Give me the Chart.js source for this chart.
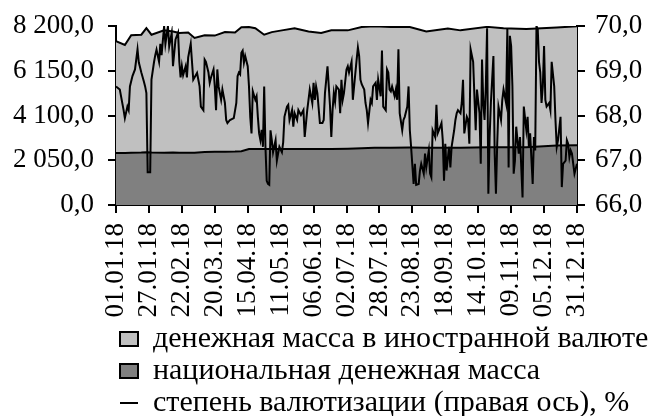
<!DOCTYPE html>
<html lang="ru">
<head>
<meta charset="UTF-8" />
<title>Денежная масса и степень валютизации</title>
<script src="https://cdn.jsdelivr.net/npm/chart.js"></script>
<style>
  html, body { margin: 0; padding: 0; background: #fff; }
</style>
</head>
<body>
<canvas id="chart" width="656" height="416"></canvas>
<script>
// days counted from 01.01.2018
const areaDays = [0, 7, 12, 20, 24, 28, 38, 45, 50, 57, 62, 70, 78, 86, 94, 99, 105, 110, 117, 123, 131, 141,
  152, 162, 170, 183, 194, 204, 217, 232, 245, 262, 272, 293, 306, 324, 348, 364];
const nationalMass = [2380, 2385, 2390, 2400, 2420, 2400, 2390, 2400, 2395, 2390, 2390, 2430, 2440, 2445, 2450, 2460,
  2560, 2565, 2570, 2570, 2570, 2570, 2565, 2560, 2570, 2580, 2600, 2620, 2625, 2630, 2620, 2620, 2625, 2640,
  2645, 2650, 2720, 2740];
const foreignMass = [5120, 4945, 5390, 5400, 5680, 5400, 5610, 5550, 5485, 5510, 5260, 5350, 5320, 5475, 5450, 5680,
  5590, 5535, 5230, 5350, 5430, 5530, 5385, 5320, 5430, 5420, 5550, 5570, 5525, 5520, 5330, 5460, 5375, 5520,
  5455, 5410, 5410, 5450];

const rateDays = [0, 3, 6, 7, 9, 10, 11, 13, 15, 17, 18, 20, 22, 23, 24, 25, 27, 28, 30, 31, 32, 34, 35, 36, 38, 39,
  41, 42, 44, 45, 47, 49, 50, 51, 52, 53, 55, 56, 57, 59, 60, 61, 64, 66, 67, 69, 70, 71, 73, 74, 75, 77, 78, 79,
  80, 81, 83, 84, 86, 87, 88, 90, 93, 95, 96, 97, 98, 99, 100, 101, 102, 104, 105, 106, 107, 108, 110, 111, 112,
  113, 114, 115, 116, 117, 118, 119, 120, 121, 122, 123, 124, 126, 127, 128, 129, 131, 132, 133, 135, 136, 137,
  139, 140, 141, 143, 144, 146, 148, 149, 151, 152, 153, 155, 156, 157, 158, 159, 161, 163, 164, 165, 167, 168,
  169, 170, 171, 172, 173, 174, 176, 177, 178, 179, 180, 182, 183, 184, 186, 187, 188, 190, 191, 192, 193, 194,
  196, 197, 198, 199, 201, 202, 203, 205, 206, 207, 209, 210, 211, 213, 214, 215, 216, 217, 218, 220, 221, 222,
  223, 224, 226, 227, 228, 230, 231, 232, 233, 235, 236, 237, 239, 240, 241, 243, 244, 245, 247, 248, 249, 250,
  252, 253, 254, 255, 257, 258, 259, 260, 261, 263, 264, 265, 267, 268, 269, 270, 272, 273, 274, 275, 277, 278,
  279, 280, 282, 283, 284, 285, 287, 288, 289, 290, 291, 292, 293, 294, 295, 296, 298, 299, 300, 301, 302, 304,
  305, 306, 308, 309, 310, 311, 312, 313, 314, 315, 316, 318, 319, 320, 321, 322, 324, 325, 326, 327, 329, 330,
  331, 332, 333, 334, 335, 336, 337, 338, 339, 340, 342, 343, 344, 346, 347, 348, 349, 351, 352, 353, 355, 356,
  357, 358, 359, 360, 362, 364];
const dollarization = [68.65, 68.58, 68.12, 67.94, 68.2, 68.12, 68.65, 68.88, 69.03, 69.48, 69.19, 68.96, 68.76,
  68.65, 68.5, 66.73, 66.73, 68.8, 69.19, 69.35, 69.47, 69.2, 69.6, 69.35, 70.0, 69.6, 70.0, 69.55, 69.85, 69.1,
  69.7, 69.85, 69.2, 68.85, 69.1, 68.9, 69.1, 68.85, 69.3, 69.6, 69.2, 68.8, 68.95, 68.65, 68.2, 68.12, 69.25,
  69.2, 68.96, 68.73, 68.85, 69.03, 68.65, 68.12, 69.03, 68.65, 68.35, 68.58, 68.28, 67.9, 67.83, 67.9, 67.94,
  68.28, 68.88, 68.96, 68.92, 69.4, 69.45, 69.18, 69.33, 69.1, 68.65, 67.97, 67.6, 68.54, 68.35, 68.43, 67.97,
  67.6, 67.45, 67.68, 67.3, 68.65, 67.3, 66.54, 66.47, 66.45, 67.67, 67.45, 67.18, 67.45, 66.99, 67.15, 67.3,
  67.18, 67.4, 67.97, 68.2, 68.24, 67.9, 68.12, 67.75, 68.05, 67.9, 68.12, 68.01, 68.12, 67.52, 68.12, 68.35,
  68.58, 68.28, 68.73, 68.35, 68.65, 68.5, 67.83, 67.83, 67.9, 68.5, 69.1, 68.65, 68.2, 67.52, 68.12, 68.5,
  68.31, 68.65, 68.58, 68.05, 68.8, 68.35, 68.5, 69.03, 69.1, 68.96, 69.2, 68.35, 68.65, 69.25, 69.52, 69.33,
  68.8, 68.7, 68.58, 68.28, 68.12, 67.83, 68.35, 68.28, 68.65, 68.73, 68.35, 68.8, 68.43, 69.45, 68.2, 68.12,
  69.03, 68.96, 68.58, 68.54, 68.65, 68.43, 68.58, 68.35, 69.48, 68.05, 67.67, 67.9, 67.97, 68.2, 68.65, 67.67,
  67.3, 66.47, 66.92, 66.45, 66.47, 66.77, 66.92, 66.7, 67.15, 66.84, 67.22, 66.7, 66.62, 67.67, 67.52, 68.24,
  67.6, 67.67, 67.83, 67.45, 66.54, 67.37, 66.77, 67.3, 66.84, 67.3, 67.67, 67.9, 68.05, 68.12, 68.05, 68.28,
  68.8, 67.6, 67.97, 67.9, 67.37, 69.48, 69.2, 68.43, 67.67, 68.58, 68.05, 66.92, 69.25, 68.28, 67.9, 68.65,
  69.95, 66.25, 67.52, 68.28, 69.33, 67.15, 66.25, 67.37, 68.2, 67.9, 68.35, 68.58, 68.28, 69.93, 66.84, 69.78,
  69.55, 68.65, 66.7, 66.99, 67.75, 67.15, 67.52, 66.84, 66.17, 68.2, 67.67, 67.97, 67.3, 67.6, 66.47, 67.52,
  67.22, 70.0, 69.93, 69.2, 68.96, 68.28, 68.65, 69.55, 68.35, 68.2, 68.28, 68.12, 69.2, 68.65, 67.9, 67.3,
  67.45, 67.97, 66.4, 66.92, 66.99, 67.45, 67.37, 67.07, 67.22, 67.15, 66.7, 66.92];

const leftTicks = [0, 2050, 4100, 6150, 8200];
const rightTicks = [66, 67, 68, 69, 70];
const labels = {
  foreign: "денежная масса в иностранной валюте",
  national: "национальная денежная масса",
  rate: "степень валютизации (правая ось), %"
};

function fmtNum(v) {
  const parts = v.toFixed(1).split(".");
  return parts[0].replace(/\B(?=(\d{3})+(?!\d))/g, " ") + "," + parts[1];
}
function fmtDay(v) {
  const d = new Date(2018, 0, 1 + v);
  const p = n => String(n).padStart(2, "0");
  return p(d.getDate()) + "." + p(d.getMonth() + 1) + "." + String(d.getFullYear()).slice(2);
}

const TICK_FONT = { family: "Liberation Serif", size: 27 };
const LEGEND_FONT = { family: "Liberation Serif", size: 30 };
const legendRank = { 2: 0, 1: 1, 0: 2 };

// move the legend block under the plot, as in the original
const legendNudge = {
  id: "legendNudge",
  afterLayout(chart) {
    const lg = chart.legend;
    lg.left += 118; lg.right += 118;
    lg.top += 4; lg.bottom += 4;
  }
};

// fixed widths for the value axes, and no extra top padding from their labels
function fitValueAxis(width) {
  return s => {
    s.width = width;
    s.paddingTop = 0;
    s.paddingBottom = 0;
  };
}

const axisGrid = { drawOnChartArea: false, color: "#000", tickLength: 8, lineWidth: 2 };

new Chart(document.getElementById("chart"), {
  type: "line",
  data: {
    datasets: [
      {
        label: labels.rate,
        data: rateDays.map((d, i) => ({ x: d, y: dollarization[i] })),
        yAxisID: "y1",
        borderColor: "#000",
        borderWidth: 2,
        pointRadius: 0,
        pointStyle: "line",
        fill: false,
        order: 0
      },
      {
        label: labels.national,
        data: areaDays.map((d, i) => ({ x: d, y: nationalMass[i] })),
        yAxisID: "y",
        backgroundColor: "#808080",
        borderColor: "#000",
        borderWidth: 2,
        pointRadius: 0,
        pointStyle: "rect",
        fill: "origin",
        order: 1
      },
      {
        label: labels.foreign,
        data: areaDays.map((d, i) => ({ x: d, y: foreignMass[i] })),
        yAxisID: "y",
        backgroundColor: "#c0c0c0",
        borderColor: "#000",
        borderWidth: 2,
        pointRadius: 0,
        pointStyle: "rect",
        fill: "origin",
        order: 2
      }
    ]
  },
  options: {
    responsive: false,
    animation: false,
    layout: { padding: { top: 26, right: 0, left: 0, bottom: -8 } },
    scales: {
      x: {
        type: "linear",
        min: 0,
        max: 364,
        afterFit: s => { s.height = 113; },
        grid: axisGrid,
        border: { color: "#000", width: 2 },
        ticks: {
          stepSize: 26,
          autoSkip: false,
          maxRotation: 90,
          minRotation: 90,
          padding: 10,
          color: "#000",
          font: TICK_FONT,
          callback: v => fmtDay(v)
        }
      },
      y: {
        stacked: true,
        min: 0,
        max: 8200,
        afterBuildTicks: s => { s.ticks = leftTicks.map(v => ({ value: v })); },
        afterFit: fitValueAxis(116),
        grid: axisGrid,
        border: { color: "#000", width: 2 },
        ticks: { padding: 14, color: "#000", font: TICK_FONT, callback: v => fmtNum(v) }
      },
      y1: {
        position: "right",
        min: 66,
        max: 70,
        afterBuildTicks: s => { s.ticks = rightTicks.map(v => ({ value: v })); },
        afterFit: fitValueAxis(79),
        grid: axisGrid,
        border: { color: "#000", width: 2 },
        ticks: { padding: 10, color: "#000", font: TICK_FONT, callback: v => fmtNum(v) }
      }
    },
    plugins: {
      tooltip: { enabled: false },
      legend: {
        position: "bottom",
        align: "start",
        fullSize: true,
        labels: {
          usePointStyle: true,
          pointStyleWidth: 18,
          boxHeight: 14,
          padding: 2,
          color: "#000",
          font: LEGEND_FONT,
          sort: (a, b) => legendRank[a.datasetIndex] - legendRank[b.datasetIndex]
        }
      }
    }
  },
  plugins: [legendNudge]
});
</script>
</body>
</html>
